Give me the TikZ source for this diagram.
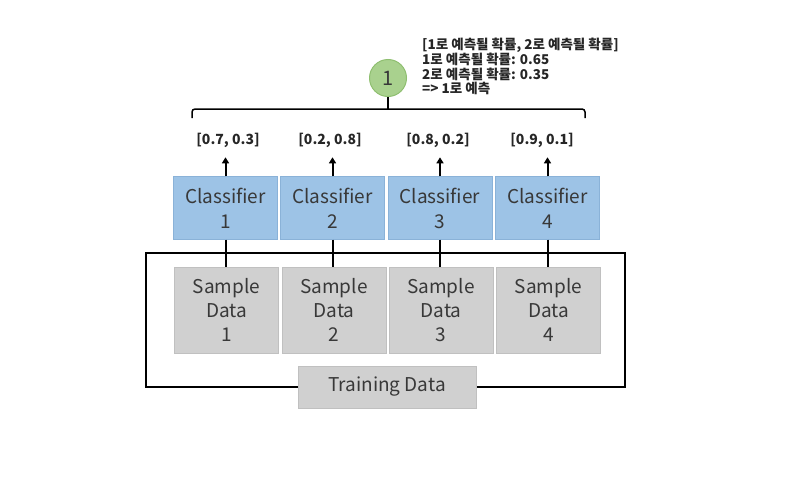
\documentclass[tikz,border=0pt]{standalone}
\usepackage{fontspec}
\setmainfont{Noto Sans CJK KR}
\usetikzlibrary{arrows.meta}
\definecolor{clsfill}{HTML}{9DC3E6}
\definecolor{clsdraw}{HTML}{8AB2D8}
\definecolor{smpfill}{HTML}{D0D0D0}
\definecolor{smpdraw}{HTML}{C0C0C0}
\definecolor{grnfill}{HTML}{A9D18E}
\definecolor{grndraw}{HTML}{8FBF70}
\definecolor{txt}{HTML}{383838}
\tikzset{
  clsbox/.style={draw=clsdraw, fill=clsfill, minimum width=104pt, minimum height=63pt, inner sep=0pt, align=center, text=txt, font=\fontsize{19}{25}\selectfont},
  smpbox/.style={draw=smpdraw, fill=smpfill, minimum width=104pt, minimum height=86pt, inner sep=0pt, align=center, text=txt, font=\fontsize{19}{24}\selectfont},
  conn/.style={line width=2pt, black},
  arr/.style={line width=2pt, black, -{Triangle[width=7pt,length=6pt]}},
  prob/.style={font=\bfseries\fontsize{14}{16}\selectfont, text=black!85},
}
\begin{document}
\begin{tikzpicture}[x=1pt,y=-1pt]
\useasboundingbox (0,0) rectangle (805,495);
% frame
\draw[line width=2.5pt] (146,253) rectangle (625,387);
% sample boxes
\node[smpbox] (s1) at (226.5,310) {Sample\\Data\\1};
\node[smpbox] (s2) at (334,310) {Sample\\Data\\2};
\node[smpbox] (s3) at (441,310) {Sample\\Data\\3};
\node[smpbox] (s4) at (548.5,310) {Sample\\Data\\4};
% training data
\node[draw=smpdraw, fill=smpfill, minimum width=178pt, minimum height=42pt, inner sep=0pt, text=txt, font=\fontsize{19}{24}\selectfont] (td) at (387,387) {Training Data};
% classifiers
\node[clsbox] (c1) at (225.5,208) {Classifier\\1};
\node[clsbox] (c2) at (332.5,208) {Classifier\\2};
\node[clsbox] (c3) at (440,208) {Classifier\\3};
\node[clsbox] (c4) at (547.5,208) {Classifier\\4};
% connectors classifier-sample
\foreach \i in {1,2,3,4} {
  \draw[conn] (c\i.south) -- (c\i.south |- s\i.north);
}
% probability labels
\node[prob] (p1) at (228,140) {[0.7, 0.3]};
\node[prob] (p2) at (330,140) {[0.2, 0.8]};
\node[prob] (p3) at (438,140) {[0.8, 0.2]};
\node[prob] (p4) at (542,140) {[0.9, 0.1]};
\foreach \i in {1,2,3,4} {
  \draw[arr] (c\i.north) -- ++(0,-19);
}
% bracket
\coordinate (bl) at (192,118);
\coordinate (br) at (585,118);
\draw[line width=1.5pt, rounded corners=3pt] (bl) -- (192,109) -- (585,109) -- (br);
% circle
\node[circle, draw=grndraw, line width=1pt, fill=grnfill, minimum size=37pt, inner sep=0pt, text=txt, font=\fontsize{20}{22}\selectfont] (v) at (388,78) {1};
\draw[line width=1.5pt] (v.south) -- (388,109);
% explanation
\node[anchor=north west, align=left, inner sep=0pt, font=\bfseries\fontsize{13.5}{14.7}\selectfont, text=black!85] (ex) at (422,38) {[1로 예측될 확률, 2로 예측될 확률]\\1로 예측될 확률: 0.65\\2로 예측될 확률: 0.35\\=> 1로 예측};
\end{tikzpicture}
\end{document}
